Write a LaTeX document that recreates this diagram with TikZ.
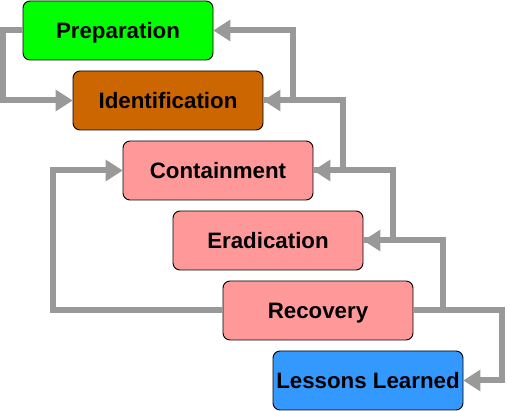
\documentclass[tikz,border=0pt]{standalone}
\usepackage{fontspec}
\setmainfont{Liberation Sans}
\usetikzlibrary{arrows.meta}
\definecolor{prepgreen}{HTML}{00FF00}
\definecolor{identbrown}{HTML}{CC6600}
\definecolor{stepred}{HTML}{FF9999}
\definecolor{lessblue}{HTML}{3399FF}
\definecolor{linegray}{HTML}{999999}
\tikzset{
  phase/.style={draw=black, line width=0.9pt, rounded corners=7pt, minimum width=190pt, minimum height=59pt, inner sep=0pt,
    text height=19.8pt, text depth=3.3pt,
    font=\fontsize{22.3}{26}\selectfont\bfseries, text=black},
  flow/.style={draw=linegray, line width=6pt, line join=miter,
    -{Triangle[length=17pt,width=22pt,line width=0pt,fill=linegray,color=linegray]}}
}
\begin{document}
\begin{tikzpicture}[x=1pt,y=-1pt]
\useasboundingbox (0,0) rectangle (507,411);
\node[phase, fill=prepgreen] (prep) at (118,30.5) {Preparation};
\node[phase, fill=identbrown] (ident) at (168,100.5) {Identification};
\node[phase, fill=stepred] (cont) at (218,170.5) {Containment};
\node[phase, fill=stepred] (erad) at (268,240.5) {Eradication};
\node[phase, fill=stepred] (rec) at (318,310.5) {Recovery};
\node[phase, fill=lessblue] (less) at (368,380.5) {Lessons Learned};
\draw[flow] (prep.west) -- ++(-19.5,0) |- (ident.west);
\draw[flow] (ident.east) -- ++(30,0) |- (prep.east);
\draw[flow] (cont.east) -- ++(30,0) |- (ident.east);
\draw[flow] (erad.east) -- ++(30,0) |- (cont.east);
\draw[flow] (rec.east) -- ++(30,0) |- (erad.east);
\draw[flow] (rec.east) -- ++(88.5,0) |- (less.east);
\draw[flow] (rec.west) -- ++(-170,0) |- (cont.west);
\end{tikzpicture}
\end{document}
